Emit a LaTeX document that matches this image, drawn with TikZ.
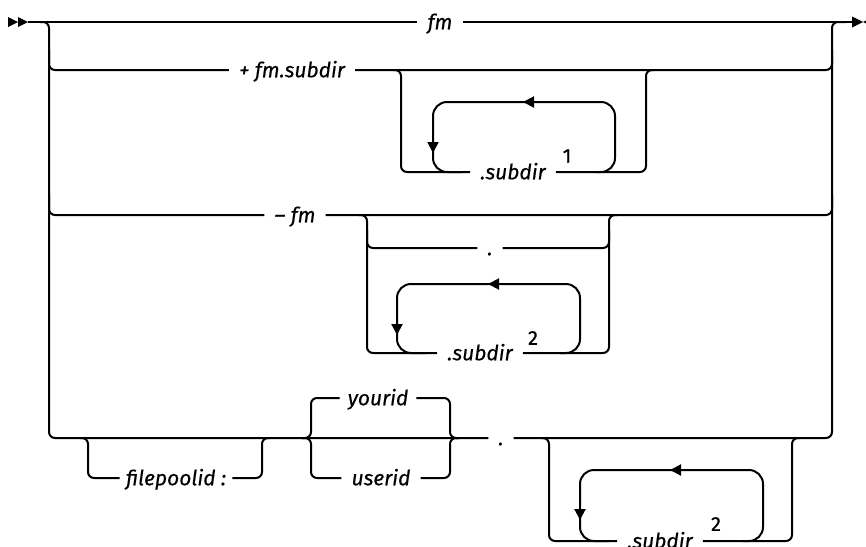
\documentclass[tikz,border=0pt]{standalone}
\usepackage{fontspec}
\setmainfont{Fira Sans}
\usetikzlibrary{arrows.meta,positioning,calc}
\tikzset{
	rail/.style={line width=2pt, rounded corners=6pt},
	looprail/.style={rail, rounded corners=14pt},
	looptip/.style={-{Triangle[length=11pt,width=11pt]}},
	term/.style={font=\itshape\addfontfeature{FakeBold=0.4}, inner xsep=10pt, inner ysep=0pt, text height=14.5pt, text depth=0pt},
	note/.style={font=\fontsize{20}{24}\selectfont\addfontfeature{FakeBold=0.8}, inner sep=0pt}
}

\begin{document}
\begin{tikzpicture}[x=1pt,y=-1pt]
		\fontsize{21}{25}\selectfont
		\useasboundingbox (0,0) rectangle (866,546);

		% main line
		\fill (8,17) -- (18,22) -- (8,27) -- cycle;
		\fill (18,17) -- (28,22) -- (18,27) -- cycle;
		\coordinate (start) at (28,22);
		\coordinate (finish) at (852,22);
		\node[term] (fm) at (440,22) {fm};
		\draw[rail] (start) -- (fm);
		\draw[rail] (fm) -- (finish);
		\fill (852,16.5) -- (863,22) -- (852,27.5) -- cycle;
		\fill (874,16.5) -- (863,22) -- (874,27.5) -- cycle;

		% side bars and last row
		\node[term] (dotb) at (501,438) {.};
		\draw[rail] (40,22) -| (49,300) |- (dotb);
		\draw[rail] (dotb) -| (832,300) |- (846,22);

		% + fm.subdir
		\node[term] (plus) at (292,70) {+ fm.subdir};
		\draw[rail] (49,50) |- (plus);
		\draw[rail] (plus) -| (832,50);
		\node[term] (subA) at (513,172) {.subdir};
		\node[note] (noteA) at (567,156) {1};
		\draw[rail] (393,70) -| (401,120) |- (subA);
		\draw[rail] (subA) -| (646,120) |- (654,70);
		\draw[looprail,looptip] (596,172) -| (615,102) -- (523,102);
		\draw[looprail,looptip] (530,102) -| (433,153);
		\draw[looprail] (433,148) |- (462,172);

		% - fm
		\node[term] (minus) at (295,215) {\textendash\ fm};
		\draw[rail] (49,195) |- (minus);
		\draw[rail] (minus) -| (832,195);
		\node[term] (dota) at (490,248) {.};
		\node[term] (subB) at (480,353) {.subdir};
		\node[note] (noteB) at (533,338) {2};
		\draw[rail] (359,215) -| (367,300) |- (subB);
		\draw[rail] (367,230) |- (dota);
		\draw[rail] (dota) -| (609,230);
		\draw[rail] (subB) -| (609,300) |- (617,215);
		\draw[looprail,looptip] (560,353) -| (580,284) -- (488,284);
		\draw[looprail,looptip] (495,284) -| (397,335);
		\draw[looprail] (397,330) |- (426,353);

		% filepoolid : yourid / userid
		\node[term, inner xsep=6pt] (pool) at (176,478) {filepoolid :};
		\draw[rail] (80,438) -| (88,460) |- (pool);
		\draw[rail] (pool) -| (262,460) |- (270,438);
		\node[term, inner xsep=8pt] (your) at (378,398) {yourid};
		\node[term] (user) at (381,478) {userid};
		\draw[rail] (302,438) -| (311,420) |- (your);
		\draw[rail] (302,438) -| (311,455) |- (user);
		\draw[rail] (your) -| (450,420) |- (459,438);
		\draw[rail] (user) -| (450,455) |- (459,438);
		\node[term] (subC) at (660,541) {.subdir};
		\node[note] (noteC) at (716,524) {2};
		\draw[rail] (541,438) -| (549,500) |- (subC);
		\draw[rail] (subC) -| (792,500) |- (800,438);
		\draw[looprail,looptip] (743,541) -| (763,470) -- (670,470);
		\draw[looprail,looptip] (677,470) -| (580,520);
		\draw[looprail] (580,515) |- (609,541);
	\end{tikzpicture}
\end{document}
